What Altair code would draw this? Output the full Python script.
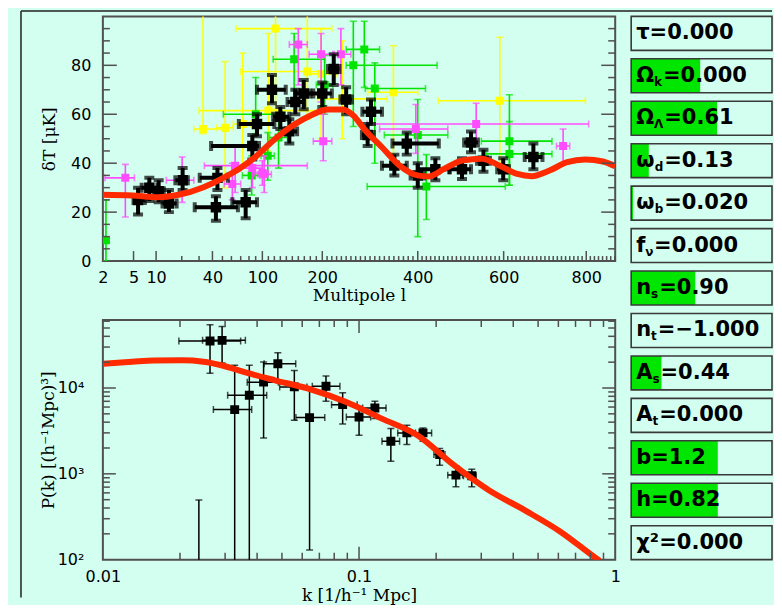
import altair as alt
import pandas as pd

BG = "#d3fff0"
FRAME = "#505050"
RED = "#ff2a00"
GREEN = "#00e400"
YELLOW = "#ffff00"
MAGENTA = "#ff4cff"
BOXGREEN = "#00e600"

# ---------------- top panel: CMB band powers (l, dT [uK]) ----------------
blk_l   = [6, 8.5, 11, 15, 20.5, 45, 43.5, 76, 85, 92, 116, 130, 145, 155, 169, 200, 224, 250, 302, 295, 351, 377, 400, 441, 503, 524, 553, 599, 672]
blk_dT  = [25, 30, 28.5, 23.5, 33, 34, 22, 24, 47, 56, 70, 59, 53, 65, 68.5, 68.5, 78.5, 66, 61, 51.5, 39, 48, 35, 37.5, 37.5, 48.5, 41, 37.5, 42.5]
blk_llo = [5, 6.8, 9.5, 12.5, 17.5, 30.5, 27.5, 61, 39, 68, 92, 118, 135, 142, 155, 180, 212, 238, 284, 283, 325, 347, 385, 400, 474, 508, 538, 585, 651]
blk_lhi = [7.5, 10.5, 13, 18, 23.5, 56, 67, 92, 95, 120, 139, 145, 158, 170, 185, 220, 236, 262, 325, 308, 377, 449, 415, 474, 524, 540, 568, 613, 694]
blk_lo  = [19, 24.5, 24, 20, 29, 29, 16.5, 17.5, 41.5, 51, 64.5, 54, 48, 60, 62, 63, 72, 60, 56, 47, 35, 43.5, 30, 33, 33.5, 44.5, 36.5, 33, 37.5]
blk_hi  = [30, 34, 33, 29, 38, 38, 26.5, 29, 51.5, 60, 76, 63, 58, 70, 74, 73, 84.5, 71, 66, 56, 43.5, 52.5, 40, 42, 42, 53, 45.5, 42, 48]

grn_l   = [2.3, 84, 90, 109, 127, 153, 205, 265, 288, 310, 400, 420, 614, 614]
grn_dT  = [8.5, 35, 60, 43, 50.5, 82.5, 72, 80, 86.5, 70.5, 51.5, 30.5, 49, 43.8]
grn_llo = [2.2, 72, 51, 98, 112, 118, 190, 250, 250, 290, 330, 294, 548, 560]
grn_lhi = [2.4, 96, 133, 120, 142, 205, 222, 445, 320, 418, 470, 604, 717, 717]
grn_lo  = [0, 27, 52, 33, 38, 66, 60, 55, 71, 40, 10, 17, 31, 31]
grn_hi  = [25, 43, 75, 52.5, 58, 93, 84, 98, 98, 81, 66, 43.5, 68, 57]

yel_l   = [33, 53, 72.5, 110, 122, 175, 198, 242, 349, 591]
yel_dT  = [54, 54.5, 56, 61.5, 95, 77.5, 76.5, 66.3, 69, 65.5]
yel_llo = [27, 44, 62, 30, 65, 70, 175, 192, 295, 448]
yel_lhi = [54, 62, 82, 200, 220, 231, 230, 336, 400, 798]
yel_lo  = [52, 30, 38, 45, 62, 58, 50, 50, 40, 40]
yel_hi  = [105, 81.5, 85, 93, 105, 105, 95, 90, 88, 91.5]

mag_l   = [4.2, 20.2, 64, 61, 103, 160, 198, 239, 202, 396, 536, 744, 85, 100]
mag_dT  = [34, 33, 39, 31.5, 35.5, 88.5, 84.5, 84.5, 49, 54, 56, 47, 38, 36]
mag_llo = [2.2, 14, 34, 52, 93, 145, 178, 222, 185, 320, 294, 728, 70, 88]
mag_lhi = [5.2, 27, 175, 70, 115, 175, 225, 260, 220, 470, 806, 760, 100, 110]
mag_lo  = [18, 24, 28, 25, 28, 72, 65, 72, 41, 44, 49, 40, 30, 31]
mag_hi  = [39.5, 42.5, 47, 40, 43, 95, 93, 95, 60, 64, 64.5, 54, 48, 41]

cl_l  = [2, 4.9, 10.4, 18.8, 33.4, 49, 68.5, 92, 121, 150.7, 180.5, 213, 242.7, 265, 287.7, 325, 362, 399.6, 424.6, 462, 503.5, 549, 590.7, 633, 667.9, 711, 754, 797.6, 841, 871]
cl_dT = [27.1, 26.8, 26.1, 27.1, 30.2, 33.6, 37.7, 43.1, 49.9, 55.4, 59.5, 61.9, 61.9, 59.5, 54, 46.5, 39, 35, 34.6, 37.7, 41.1, 41.8, 39, 35.6, 34.7, 37, 40.4, 41.5, 40.7, 38.7]

l_ticks_major = [5, 10, 40, 100, 200, 400, 600, 800]
l_ticks_minor = [20, 30, 50, 60, 70, 80, 90] + list(range(110, 200, 10)) + list(range(210, 400, 10)) \
    + list(range(410, 600, 10)) + list(range(610, 800, 10)) + list(range(810, 871, 10))
l_labels = [2, 5, 10, 40, 100, 200, 400, 600, 800]
dT_ticks_major = [20, 40, 60, 80]
dT_ticks_minor = [v for v in range(5, 100, 5) if v % 20 != 0]
dT_labels = [0, 20, 40, 60, 80]

# ---------------- bottom panel: matter power spectrum ----------------
pk_k   = [0.0262, 0.0292, 0.0327, 0.0373, 0.0424, 0.0482, 0.0559, 0.0641, 0.0743, 0.0863, 0.100, 0.1153, 0.1331, 0.1537, 0.1777, 0.2065, 0.2389, 0.2755, 0.0237]
pk_P   = [35200, 35900, 5600, 8220, 11700, 19200, 10300, 4520, 10500, 6400, 4600, 5850, 2400, 3000, 3000, 1680, 966, 950, 50]
pk_klo = [0.0198, 0.0245, 0.0270, 0.0307, 0.0366, 0.0426, 0.0490, 0.0567, 0.0657, 0.0781, 0.0892, 0.1033, 0.1229, 0.1416, 0.161, 0.196, 0.222, 0.2557, 0.0237]
pk_khi = [0.0345, 0.0360, 0.0381, 0.0436, 0.0484, 0.0566, 0.0626, 0.0735, 0.0842, 0.0983, 0.111, 0.1275, 0.144, 0.166, 0.192, 0.2165, 0.2536, 0.2865, 0.0237]
pk_lo  = [14900, 19500, 50, 50, 2620, 11700, 4200, 130, 7000, 3800, 2820, 4400, 1400, 2190, 2400, 1260, 706, 706, 50]
pk_hi  = [54500, 52100, 18400, 18400, 20100, 25700, 16000, 10300, 13800, 8830, 6020, 7000, 3370, 3680, 3430, 1970, 1240, 1130, 494]

mk_k = [0.01, 0.013, 0.0158, 0.0204, 0.0247, 0.029, 0.0363, 0.047, 0.0647, 0.0891, 0.1227, 0.169, 0.2333, 0.3214, 0.4426, 0.611, 0.8414, 0.87]
mk_P = [19200, 20200, 20900, 21000, 20200, 18400, 15100, 12300, 9660, 6870, 4400, 2820, 1280, 645, 378, 212, 104, 97]

k_ticks_major = [0.1]
k_ticks_minor = [0.02, 0.03, 0.04, 0.05, 0.06, 0.07, 0.08, 0.09, 0.2, 0.3, 0.4, 0.5, 0.6, 0.7, 0.8, 0.9]
P_ticks_major = [1000, 10000]
P_ticks_minor = [200, 300, 400, 500, 600, 700, 800, 900, 2000, 3000, 4000, 5000, 6000, 7000, 8000, 9000,
                 20000, 30000, 40000, 50000, 60000]

# ---------------- parameter boxes ----------------
par_sym = ["τ", "Ω", "Ω", "ω", "ω", "f", "n", "n", "A", "A", "b", "h", "χ²"]
par_sub = ["", "k", "Λ", "d", "b", "ν", "s", "t", "s", "t", "", "", ""]
par_val = ["=0.000", "=0.000", "=0.61", "=0.13", "=0.020", "=0.000", "=0.90", "=−1.000",
           "=0.44", "=0.000", "=1.2", "=0.82", "=0.000"]
par_fill = [0, 0.49, 0.61, 0.125, 0.013, 0, 0.455, 0, 0.215, 0, 0.615, 0.615, 0]

# ---------------- layout constants ----------------
W, H1, H2 = 513, 245, 240
BOXW = 141
SYM_FS, SUB_FS = 21, 12
SYM_W = {"τ": 0.64, "Ω": 0.85, "ω": 0.88, "f": 0.435, "n": 0.712, "A": 0.774, "b": 0.716, "h": 0.712, "χ²": 1.10}
SUB_W = {"": 0.0, "k": 0.665, "Λ": 0.774, "d": 0.716, "b": 0.716, "ν": 0.652, "s": 0.595, "t": 0.478}

L_KNOTS = [2, 5, 10, 20, 30, 40, 50, 60, 70, 80, 90, 100, 200, 400, 600, 800, 871]
L_PIX = [0, 30.7, 53.3, 79, 96.3, 109.7, 119.7, 128.7, 138, 146.3, 153, 159.7, 219.7, 315.3, 401.3, 484, 513]

xs_top = alt.Scale(domain=L_KNOTS, range=L_PIX, nice=False, zero=False)
ys_top = alt.Scale(domain=[0, 100], nice=False, zero=False)
xs_bot = alt.Scale(type="log", domain=[0.01, 1], nice=False)
ys_bot = alt.Scale(type="log", domain=[100, 62000], nice=False)

ax_top_x = alt.Axis(values=l_labels, title="Multipole l", labelPadding=8, labelFlush=False,
                    labelOverlap=False, titleX=W / 2, titleY=34, titleBaseline="middle", titleAlign="center")
ax_top_y = alt.Axis(values=dT_labels, title="δT [μK]", labelPadding=12, labelFlush=False,
                    labelOverlap=False, titleX=-53, titleY=H1 / 2, titleBaseline="middle",
                    titleAlign="center", titleAngle=-90)
ax_bot_x = alt.Axis(values=[0.01, 0.1, 1], title="k [1/h⁻¹ Mpc]", labelPadding=9, labelFlush=False,
                    labelOverlap=False,
                    labelExpr="datum.value < 0.05 ? '0.01' : datum.value < 0.5 ? '0.1' : '1'",
                    titleX=W / 2, titleY=36, titleBaseline="middle", titleAlign="center")
ax_bot_y = alt.Axis(values=[100, 1000, 10000], title="P(k) [(h⁻¹Mpc)³]", labelPadding=19,
                    labelFlush=False, labelOverlap=False,
                    labelExpr="datum.value >= 5000 ? '10⁴' : datum.value >= 500 ? '10³' : '10²'",
                    titleX=-54, titleY=H2 / 2, titleBaseline="middle", titleAlign="center",
                    titleAngle=-90)


def err_layers(x, y, xlo, xhi, ylo, yhi, color, lw, cap, msize, xs, ys, ax, ay):
    df = pd.DataFrame({"x": x, "y": y, "xlo": xlo, "xhi": xhi, "ylo": ylo, "yhi": yhi})
    b = alt.Chart(df)
    X = lambda f: alt.X(f"{f}:Q", scale=xs, axis=ax)
    Y = lambda f: alt.Y(f"{f}:Q", scale=ys, axis=ay)
    return [
        b.mark_rule(color=color, strokeWidth=lw, clip=True).encode(x=X("xlo"), x2="xhi:Q", y=Y("y")),
        b.mark_rule(color=color, strokeWidth=lw, clip=True).encode(x=X("x"), y=Y("ylo"), y2="yhi:Q"),
        b.mark_tick(color=color, orient="horizontal", size=cap, thickness=lw, clip=True).encode(x=X("x"), y=Y("ylo")),
        b.mark_tick(color=color, orient="horizontal", size=cap, thickness=lw, clip=True).encode(x=X("x"), y=Y("yhi")),
        b.mark_tick(color=color, orient="vertical", size=cap, thickness=lw, clip=True).encode(x=X("xlo"), y=Y("y")),
        b.mark_tick(color=color, orient="vertical", size=cap, thickness=lw, clip=True).encode(x=X("xhi"), y=Y("y")),
        b.mark_square(color=color, size=msize, opacity=1, clip=True).encode(x=X("x"), y=Y("y")),
    ]


def xtick_layers(vals, xs, ax, h, length, top=False):
    c = alt.Chart(pd.DataFrame({"v": vals})).mark_rule(color=FRAME, strokeWidth=1.5)
    out = [c.encode(x=alt.X("v:Q", scale=xs, axis=ax), y=alt.value(h), y2=alt.value(h - length))]
    if top:
        out.append(c.encode(x=alt.X("v:Q", scale=xs, axis=ax), y=alt.value(0), y2=alt.value(length)))
    return out


def ytick_layers(vals, ys, ay, w, length):
    c = alt.Chart(pd.DataFrame({"v": vals})).mark_rule(color=FRAME, strokeWidth=1.5)
    return [
        c.encode(y=alt.Y("v:Q", scale=ys, axis=ay), x=alt.value(0), x2=alt.value(length)),
        c.encode(y=alt.Y("v:Q", scale=ys, axis=ay), x=alt.value(w), x2=alt.value(w - length)),
    ]


one = pd.DataFrame({"a": [0]})
frame_layers = [
    alt.Chart(one).mark_rule(color="#202020", strokeWidth=1.5).encode(
        x=alt.value(-82), y=alt.value(-5.5), y2=alt.value(582)),
    alt.Chart(one).mark_rule(color="#202020", strokeWidth=1.5).encode(
        x=alt.value(-82), x2=alt.value(529 + BOXW), y=alt.value(-5.5)),
]

# ---- top panel ----
cl_df = pd.DataFrame({"l": cl_l, "dT": cl_dT})
cl_line = alt.Chart(cl_df).mark_line(color=RED, strokeWidth=6, interpolate="monotone", clip=True).encode(
    x=alt.X("l:Q", scale=xs_top, axis=ax_top_x),
    y=alt.Y("dT:Q", scale=ys_top, axis=ax_top_y),
)

top_layers = (
    frame_layers
    + err_layers(yel_l, yel_dT, yel_llo, yel_lhi, yel_lo, yel_hi, YELLOW, 1.6, 7, 64, xs_top, ys_top, ax_top_x, ax_top_y)
    + err_layers(grn_l, grn_dT, grn_llo, grn_lhi, grn_lo, grn_hi, GREEN, 1.6, 7, 64, xs_top, ys_top, ax_top_x, ax_top_y)
    + err_layers(mag_l, mag_dT, mag_llo, mag_lhi, mag_lo, mag_hi, MAGENTA, 1.6, 7, 64, xs_top, ys_top, ax_top_x, ax_top_y)
    + err_layers(blk_l, blk_dT, blk_llo, blk_lhi, blk_lo, blk_hi, "black", 4, 10, 110, xs_top, ys_top, ax_top_x, ax_top_y)
    + [cl_line]
    + xtick_layers(l_ticks_major, xs_top, ax_top_x, H1, 10)
    + xtick_layers(l_ticks_minor, xs_top, ax_top_x, H1, 5)
    + ytick_layers(dT_ticks_major, ys_top, ax_top_y, W, 14)
    + ytick_layers(dT_ticks_minor, ys_top, ax_top_y, W, 7)
)
top_main = alt.layer(*top_layers)

# ---- parameter boxes (drawn in the top view with their own scales) ----
rows = []
for i, (s, sb, v, f) in enumerate(zip(par_sym, par_sub, par_val, par_fill)):
    x0 = 5
    xsub = x0 + SYM_W[s] * SYM_FS
    xval = xsub + SUB_W[sb] * SUB_FS + (1 if sb else 0)
    rows.append({"row": i, "sym": s, "sub": sb, "val": v, "fill": f, "zero": 0, "one": 1,
                 "xb": x0 / BOXW, "xs": xsub / BOXW, "xv": xval / BOXW})
box_df = pd.DataFrame(rows)
XB = alt.Scale(domain=[0, 1], range=[529, 529 + BOXW], nice=False, zero=False)
YB = alt.Scale(range=[0, 544], paddingInner=0.2, paddingOuter=0)
bb = alt.Chart(box_df)
ybox = alt.Y("row:O", scale=YB, axis=None)
txt = dict(align="left", baseline="middle", font="DejaVu Sans", fontWeight="bold", color="black")
boxes = alt.layer(
    bb.mark_rect(color=BOXGREEN).encode(x=alt.X("zero:Q", scale=XB, axis=None), x2="fill:Q", y=ybox),
    bb.mark_rect(filled=False, stroke="#3a3a3a", strokeWidth=1.6).encode(
        x=alt.X("zero:Q", scale=XB, axis=None), x2="one:Q", y=ybox),
    bb.mark_text(fontSize=SYM_FS, **txt).encode(x=alt.X("xb:Q", scale=XB, axis=None), y=ybox, text="sym:N"),
    bb.mark_text(fontSize=SUB_FS, dy=6, **txt).encode(x=alt.X("xs:Q", scale=XB, axis=None), y=ybox, text="sub:N"),
    bb.mark_text(fontSize=SYM_FS, **txt).encode(x=alt.X("xv:Q", scale=XB, axis=None), y=ybox, text="val:N"),
)

top = alt.layer(top_main, boxes).resolve_scale(x="independent", y="independent").properties(width=W, height=H1)

# ---- bottom panel ----
mk_df = pd.DataFrame({"k": mk_k, "P": mk_P})
mk_line = alt.Chart(mk_df).mark_line(color=RED, strokeWidth=6, interpolate="monotone", clip=True).encode(
    x=alt.X("k:Q", scale=xs_bot, axis=ax_bot_x),
    y=alt.Y("P:Q", scale=ys_bot, axis=ax_bot_y),
)
bottom_layers = (
    err_layers(pk_k, pk_P, pk_klo, pk_khi, pk_lo, pk_hi, "black", 1.5, 7, 80, xs_bot, ys_bot, ax_bot_x, ax_bot_y)
    + [mk_line]
    + xtick_layers(k_ticks_major, xs_bot, ax_bot_x, H2, 13, top=True)
    + xtick_layers(k_ticks_minor, xs_bot, ax_bot_x, H2, 7, top=True)
    + ytick_layers(P_ticks_major, ys_bot, ax_bot_y, W, 13)
    + ytick_layers(P_ticks_minor, ys_bot, ax_bot_y, W, 7)
)
bottom = alt.layer(*bottom_layers).properties(width=W, height=H2)

chart = alt.vconcat(top, bottom, spacing=59, bounds="flush").configure(
    background=BG,
    padding={"left": 11, "top": 0, "right": 0, "bottom": 0},
).configure_view(
    stroke=FRAME, strokeWidth=2, fill=BG,
).configure_axis(
    ticks=False, domain=False, grid=False,
    labelFont="DejaVu Sans", labelFontSize=16, labelColor="black",
    titleFont="DejaVu Serif", titleFontSize=17, titleColor="black", titleFontWeight="normal",
)

chart.save("out.html", embed_options={"renderer": "svg", "actions": False})
